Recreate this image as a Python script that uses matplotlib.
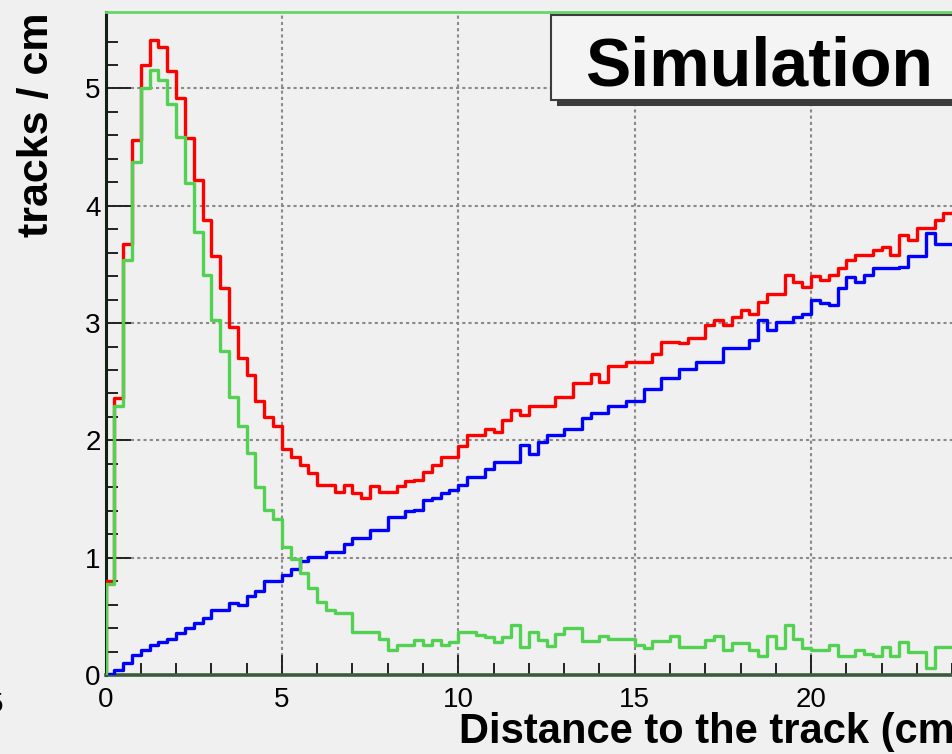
import numpy as np
import matplotlib.pyplot as plt
from matplotlib.patches import Rectangle

plt.rcParams['font.family'] = ['Liberation Sans', 'DejaVu Sans']

# tracks per cm in 0.25 cm bins, starting at 0
bin_width = 0.25

total = np.array([
    0.80, 2.36, 3.67, 4.56, 5.20, 5.41, 5.35, 5.15, 4.92, 4.58,
    4.22, 3.88, 3.57, 3.30, 2.97, 2.70, 2.56, 2.34, 2.20, 2.12,
    1.93, 1.86, 1.79, 1.72, 1.62, 1.62, 1.56, 1.62, 1.55, 1.51,
    1.61, 1.56, 1.56, 1.61, 1.65, 1.66, 1.73, 1.79, 1.86, 1.86,
    1.95, 2.05, 2.05, 2.10, 2.07, 2.17, 2.26, 2.22, 2.29, 2.29,
    2.29, 2.37, 2.37, 2.49, 2.49, 2.57, 2.50, 2.63, 2.63, 2.67,
    2.67, 2.67, 2.74, 2.84, 2.84, 2.83, 2.87, 2.87, 2.98, 3.03,
    2.98, 3.05, 3.11, 3.08, 3.18, 3.25, 3.25, 3.41, 3.35, 3.31,
    3.40, 3.37, 3.41, 3.47, 3.54, 3.58, 3.58, 3.62, 3.65, 3.58,
    3.75, 3.71, 3.81, 3.81, 3.88, 3.94])

background = np.array([
    0.01, 0.04, 0.10, 0.17, 0.21, 0.26, 0.28, 0.31, 0.36, 0.40,
    0.44, 0.49, 0.55, 0.55, 0.61, 0.60, 0.67, 0.72, 0.80, 0.80,
    0.85, 0.90, 0.97, 1.01, 1.01, 1.05, 1.05, 1.12, 1.17, 1.17,
    1.24, 1.24, 1.35, 1.35, 1.40, 1.41, 1.49, 1.51, 1.55, 1.58,
    1.62, 1.69, 1.69, 1.76, 1.82, 1.82, 1.82, 1.96, 1.88, 1.99,
    2.05, 2.05, 2.10, 2.10, 2.19, 2.23, 2.23, 2.29, 2.29, 2.34,
    2.34, 2.44, 2.44, 2.53, 2.53, 2.61, 2.61, 2.67, 2.67, 2.67,
    2.79, 2.79, 2.79, 2.86, 3.03, 2.94, 3.01, 3.01, 3.05, 3.08,
    3.20, 3.17, 3.15, 3.30, 3.39, 3.35, 3.41, 3.47, 3.47, 3.47,
    3.48, 3.57, 3.57, 3.77, 3.67, 3.67])

signal = np.array([
    0.78, 2.29, 3.54, 4.37, 5.00, 5.16, 5.07, 4.87, 4.59, 4.19,
    3.78, 3.41, 3.03, 2.76, 2.37, 2.12, 1.89, 1.60, 1.41, 1.33,
    1.09, 0.99, 0.87, 0.74, 0.62, 0.55, 0.53, 0.53, 0.37, 0.37,
    0.37, 0.31, 0.21, 0.26, 0.26, 0.30, 0.26, 0.30, 0.26, 0.28,
    0.37, 0.37, 0.34, 0.32, 0.28, 0.32, 0.43, 0.24, 0.37, 0.30,
    0.25, 0.35, 0.40, 0.40, 0.29, 0.29, 0.33, 0.31, 0.31, 0.31,
    0.26, 0.23, 0.29, 0.29, 0.33, 0.24, 0.24, 0.24, 0.30, 0.33,
    0.21, 0.27, 0.27, 0.21, 0.16, 0.33, 0.23, 0.43, 0.31, 0.23,
    0.21, 0.21, 0.26, 0.16, 0.16, 0.21, 0.18, 0.16, 0.24, 0.16,
    0.28, 0.20, 0.20, 0.06, 0.24, 0.24])

x_tick_labels = ['0', '5', '10', '15', '20']

edges = np.arange(len(total) + 1) * bin_width

W, H = 952, 754
bg = '#f0f0f0'

fig = plt.figure(figsize=(W / 100, H / 100), dpi=100)
fig.patch.set_facecolor(bg)

# frame runs past the right edge of the canvas (0..30 cm)
px_per_cm = 35.28
ax = fig.add_axes([105.5 / W, 79 / H, 30 * px_per_cm / W, 663 / H])
ax.set_facecolor(bg)


def draw_hist(vals, color):
    ax.step(edges, np.r_[0, vals], where='pre', color=color, lw=2.4, zorder=3)


draw_hist(total, '#ff0000')
draw_hist(background, '#0000ff')
draw_hist(signal, '#52d152')

ax.set_xlim(0, 30)
ax.set_ylim(0, 5.652)
ax.set_xticks(range(0, 25, 5), x_tick_labels)
ax.set_xticks(range(0, 31), minor=True)
ax.set_yticks(range(0, 6))
ax.set_yticks(np.arange(0, 5.6, 0.2), minor=True)

ax.tick_params(axis='x', which='major', direction='in', length=14.5, width=1.4,
               pad=8.5, labelsize=20, color='#222222')
ax.tick_params(axis='x', which='minor', direction='in', length=9, width=1.4, color='#222222')
ax.tick_params(axis='y', which='major', direction='in', length=18, width=1.4,
               pad=3.5, labelsize=20, color='#222222')
ax.tick_params(axis='y', which='minor', direction='in', length=8.5, width=1.4, color='#222222')

ax.grid(True, which='major', color='#8a8a8a', lw=1.5, ls=(0, (1.5, 1.5)))

ax.spines['left'].set_color('#142014')
ax.spines['left'].set_linewidth(2.2)
ax.spines['bottom'].set_color('#3d5a3d')
ax.spines['bottom'].set_linewidth(2.6)
ax.spines['top'].set_color('#66d466')
ax.spines['top'].set_linewidth(2)
ax.spines['right'].set_visible(False)

fig.text(37 / W, 1 - 125 / H, 'tracks / cm', rotation=90, fontsize=31,
         fontweight='bold', ha='center', va='center')
fig.text(459 / W, 1 - 743 / H, 'Distance to the track (cm)', fontsize=30,
         fontweight='bold', ha='left', va='baseline')
fig.text(3 / W, 1 - 692 / H, '5', fontsize=20, ha='right', va='top')

# label box with drop shadow
shadow = Rectangle((557 / W, 1 - 106 / H), 420 / W, 88 / H, transform=fig.transFigure,
                   facecolor='#3c3c3c', edgecolor='none', zorder=5)
box = Rectangle((551 / W, 1 - 100 / H), 420 / W, 85 / H, transform=fig.transFigure,
                facecolor='#f4f4f4', edgecolor='#3c3c3c', lw=1.5, zorder=6)
fig.add_artist(shadow)
fig.add_artist(box)
fig.text(585 / W, 1 - 85 / H, 'Simulation', fontsize=49, fontweight='bold',
         ha='left', va='baseline', zorder=7)

fig.savefig('out.png', dpi=100, facecolor=bg)
